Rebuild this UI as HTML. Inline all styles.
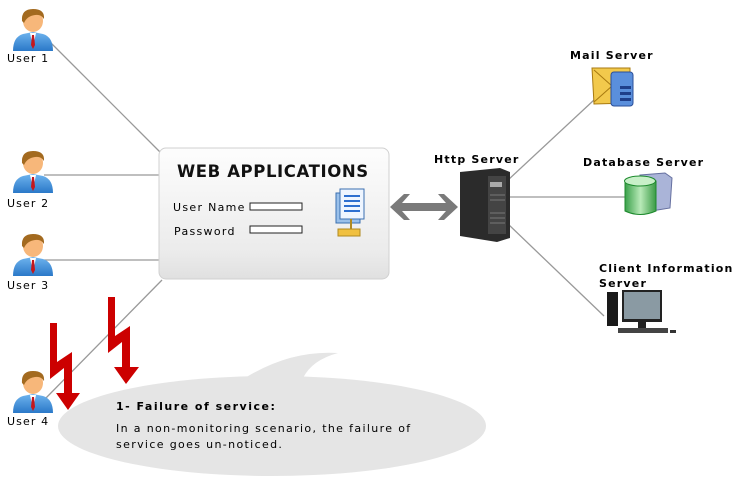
<!DOCTYPE html>
<html><head><meta charset="utf-8"><style>
html,body{margin:0;padding:0;background:#fff;}
svg{display:block;font-family:"DejaVu Sans","Liberation Sans",sans-serif;}
</style></head><body>
<svg width="739" height="483" viewBox="0 0 739 483" xmlns="http://www.w3.org/2000/svg">
<defs>
<linearGradient id="box" x1="0" y1="0" x2="0" y2="1"><stop offset="0" stop-color="#fdfdfd"/><stop offset="0.8" stop-color="#ebebeb"/><stop offset="1" stop-color="#e0e0e0"/></linearGradient>
<linearGradient id="suit" x1="0" y1="0" x2="0" y2="1"><stop offset="0" stop-color="#6fb4ee"/><stop offset="1" stop-color="#2a78c8"/></linearGradient>
<linearGradient id="cyl" x1="0" y1="0" x2="1" y2="0"><stop offset="0" stop-color="#3aa04a"/><stop offset="0.5" stop-color="#b8eab8"/><stop offset="1" stop-color="#3a9a45"/></linearGradient>
<g id="user">
 <path d="M0 45 Q0 31 10 28 L20 26 L30 28 Q40 31 40 45 Z" fill="url(#suit)"/>
 <path d="M17 27 L20 41 L23 27 Z" fill="#fff"/>
 <path d="M19 29 L21 29 L22 39 L20 43 L18 39 Z" fill="#c4171c"/>
 <ellipse cx="20" cy="15" rx="10" ry="11" fill="#f7b77a"/>
 <path d="M9 15 Q8 3 20 3 Q32 3 31 13 Q28 8 22 9 Q14 10 11 17 Z" fill="#a36a1f"/>
</g>
</defs>
<g stroke="#999" stroke-width="1.3" fill="none">
<line x1="44" y1="36" x2="160" y2="152"/>
<line x1="44" y1="175" x2="160" y2="175"/>
<line x1="44" y1="260" x2="160" y2="260"/>
<line x1="44" y1="400" x2="162" y2="280"/>
<line x1="508" y1="180" x2="594" y2="100"/>
<line x1="508" y1="197" x2="625" y2="197"/>
<line x1="508" y1="224" x2="604" y2="316"/>
</g>
<use href="#user" x="13" y="6"/>
<use href="#user" x="13" y="148"/>
<use href="#user" x="13" y="231"/>
<use href="#user" x="13" y="368"/>
<g font-size="11" fill="#000" letter-spacing="1.1">
<text x="7" y="62">User 1</text>
<text x="7" y="207">User 2</text>
<text x="7" y="289">User 3</text>
<text x="7" y="425">User 4</text>
</g>
<rect x="159" y="148" width="230" height="131" rx="7" fill="url(#box)" stroke="#d0d0d0"/>
<text x="177" y="177" font-size="16.5" font-weight="bold" letter-spacing="0.6" fill="#111">WEB APPLICATIONS</text>
<text x="173" y="211" font-size="11" letter-spacing="1.3">User Name</text>
<text x="174" y="235" font-size="11" letter-spacing="1.3">Password</text>
<rect x="250" y="203" width="52" height="7" fill="#fff" stroke="#222"/>
<rect x="250" y="226" width="52" height="7" fill="#fff" stroke="#222"/>
<rect x="336" y="193" width="24" height="30" fill="#9ac0ea" stroke="#3a6fb0"/>
<rect x="340" y="189" width="24" height="30" fill="#eef5ff" stroke="#3a6fb0"/>
<g stroke="#2d6fd0" stroke-width="2"><line x1="344" y1="196" x2="360" y2="196"/><line x1="344" y1="201" x2="360" y2="201"/><line x1="344" y1="206" x2="360" y2="206"/><line x1="344" y1="211" x2="360" y2="211"/></g>
<rect x="338" y="229" width="22" height="7" fill="#f0c040" stroke="#b08a20"/>
<line x1="351" y1="219" x2="351" y2="229" stroke="#b08a20" stroke-width="2"/>
<path d="M390 207 L404 194 L410 194 L402 203 L446 203 L438 194 L444 194 L458 207 L444 220 L438 220 L446 211 L402 211 L410 220 L404 220 Z" fill="#7a7a7a"/>
<text x="434" y="163" font-size="11" font-weight="bold" letter-spacing="1.2">Http Server</text>
<path d="M460 172 L500 168 L510 172 L510 238 L497 242 L460 236 Z" fill="#2b2b2b"/>
<rect x="488" y="176" width="18" height="58" fill="#444"/>
<rect x="490" y="182" width="12" height="5" fill="#aaa"/>
<g stroke="#777"><line x1="490" y1="195" x2="505" y2="195"/><line x1="490" y1="200" x2="505" y2="200"/><line x1="490" y1="213" x2="505" y2="213"/><line x1="490" y1="218" x2="505" y2="218"/><line x1="490" y1="223" x2="505" y2="223"/></g>
<text x="570" y="59" font-size="11" font-weight="bold" letter-spacing="1.2">Mail Server</text>
<path d="M592 68 L630 68 L630 103 L594 104 Z" fill="#f2c94c" stroke="#a87a10"/>
<path d="M594 70 L612 86 L594 102" fill="none" stroke="#a87a10"/>
<rect x="611" y="72" width="22" height="34" rx="3" fill="#5a8fdc" stroke="#2a4f9a"/>
<g fill="#1f3f8a"><rect x="620" y="86" width="11" height="3"/><rect x="620" y="92" width="11" height="3"/><rect x="620" y="98" width="11" height="3"/></g>
<text x="583" y="166" font-size="11" font-weight="bold" letter-spacing="1.2">Database Server</text>
<path d="M640 175 L665 173 L672 178 L670 208 L645 212 Z" fill="#aab4d8" stroke="#6670a0"/>
<path d="M625 181 L625 211 Q640 218 656 211 L656 181 Z" fill="url(#cyl)" stroke="#1d8a2d"/>
<ellipse cx="640" cy="181" rx="15.5" ry="5" fill="#c8f0c8" stroke="#1d8a2d"/>
<text x="599" y="272" font-size="11" font-weight="bold" letter-spacing="1.2">Client Information</text>
<text x="599" y="287" font-size="11" font-weight="bold" letter-spacing="1.2">Server</text>
<rect x="607" y="292" width="11" height="34" fill="#1a1a1a"/>
<rect x="622" y="290" width="40" height="32" fill="#222"/>
<rect x="624" y="292" width="36" height="27" fill="#8a9aa3"/>
<rect x="638" y="322" width="8" height="6" fill="#222"/>
<rect x="618" y="328" width="50" height="5" fill="#444"/>
<rect x="670" y="330" width="6" height="3" fill="#333"/>
<path d="M50 323 L57 323 L57 362 L72 352 L72 393 L80 393 L68 410 L56 393 L64 393 L64 368 L50 379 Z" fill="#cc0000"/>
<path d="M108 297 L115 297 L115 336 L130 326 L130 367 L139 367 L126 384 L114 367 L122 367 L122 342 L108 353 Z" fill="#cc0000"/>
<path d="M245 378 Q290 350 338 353 Q312 360 303 378 Z" fill="#e5e5e5"/>
<ellipse cx="272" cy="426" rx="214" ry="50" fill="#e5e5e5"/>
<text x="116" y="410" font-size="11" font-weight="bold" letter-spacing="1.5">1- Failure of service:</text>
<text x="116" y="432" font-size="11" letter-spacing="1.35">In a non-monitoring scenario, the failure of</text>
<text x="116" y="448" font-size="11" letter-spacing="1.35">service goes un-noticed.</text>
</svg>
</body></html>
